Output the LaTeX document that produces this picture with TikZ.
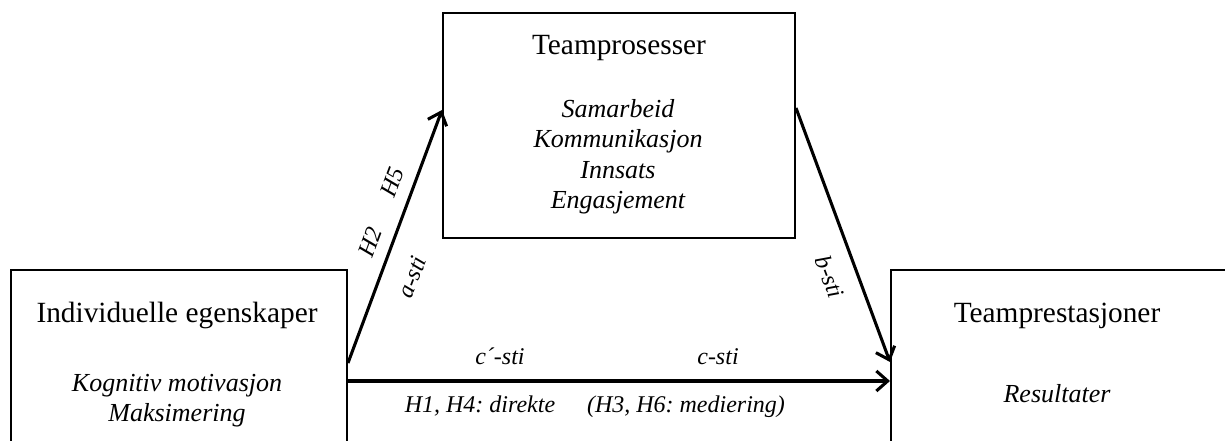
\documentclass[tikz,border=0pt]{standalone}
\usepackage{fontspec}
\setmainfont{Liberation Serif}
\usetikzlibrary{arrows.meta,calc}
\frenchspacing
\tikzset{
  box/.style={draw, line width=1.5pt, rectangle, inner sep=0pt, anchor=north west},
  title/.style={anchor=base, inner sep=0pt, font=\fontsize{22}{24}\selectfont},
  item/.style={anchor=base, inner sep=0pt, font=\fontsize{19.5}{22}\selectfont\itshape},
  lab/.style={anchor=base, inner sep=0pt, font=\fontsize{18}{20}\selectfont\itshape},
  rlab/.style={anchor=center, inner sep=0pt, font=\fontsize{18}{20}\selectfont\itshape},
  conn/.style={line width=2.3pt, -{Straight Barb[length=8.5pt,width=15pt,line width=2.3pt]}},
}
\begin{document}
\begin{tikzpicture}[x=0.75pt,y=-0.75pt]
\useasboundingbox (0,0) rectangle (1225,441);
\clip (0,0) rectangle (1225,441);
% boxes
\node[box, minimum width=252pt, minimum height=150pt] (L) at (10,269) {};
\node[box, minimum width=264pt, minimum height=168.75pt] (T) at (442,12) {};
\node[box, minimum width=252pt, minimum height=150pt] (R) at (890,269) {};
% texts
\node[title] (Lt) at (177,323) {Individuelle egenskaper};
\node[item] (Li1) at (177,392) {Kognitiv motivasjon};
\node[item] (Li2) at (177,422) {Maksimering};
\node[title] (Tt) at (619,55) {Teamprosesser};
\node[item] (Ti1) at (618,118) {Samarbeid};
\node[item] (Ti2) at (618,148) {Kommunikasjon};
\node[item] (Ti3) at (618,179) {Innsats};
\node[item] (Ti4) at (618,209) {Engasjement};
\node[title] (Rt) at (1057,323) {Teamprestasjoner};
\node[item] (Ri1) at (1057,403) {Resultater};
% connector end points
\coordinate (a0) at ($(L.north east)+(0,94)$);
\coordinate (a1) at ($(T.north west)+(0,98)$);
\coordinate (b0) at ($(T.north east)+(0,96)$);
\coordinate (b1) at ($(R.north west)+(0,93)$);
\coordinate (c0) at ($(L.north east)+(0,112)$);
\coordinate (c1) at ($(R.north west)+(0,112)$);
\draw[conn] (a0) -- (a1);
\draw[conn] (b0) -- (b1);
\draw[conn] (c0) -- (c1);
% labels
\node[rlab, rotate=69.4] (h2) at (370,242) {H2};
\node[rlab, rotate=69.4] (h5) at (392,182) {H5};
\node[rlab, rotate=69.4] (as) at (412,277) {a-sti};
\node[rlab, rotate=-69.4] (bs) at (830,277) {b-sti};
\node[lab] (cps) at (500,365) {c´-sti};
\node[lab] (cs) at (718,365) {c-sti};
\node[lab] (h14) at (480,413) {H1, H4: direkte};
\node[lab] (h36) at (686,413) {(H3, H6: mediering)};
\end{tikzpicture}
\end{document}
